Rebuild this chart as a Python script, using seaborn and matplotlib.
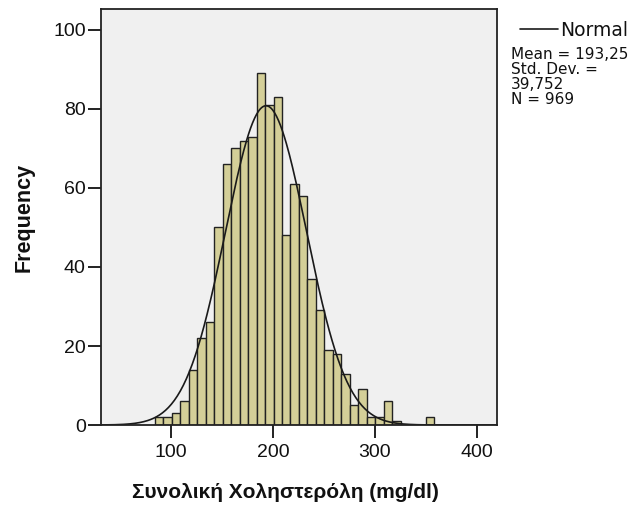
import numpy as np
import pandas as pd
import seaborn as sns
import matplotlib.pyplot as plt
from matplotlib.lines import Line2D

# histogram (SPSS style bins)
bin_start = 84.3
bin_width = 8.31
counts = [2, 2, 3, 6, 14, 22, 26, 50, 66, 70, 72, 73, 89, 81, 83, 48, 61,
          58, 37, 29, 19, 18, 13, 5, 9, 2, 2, 6, 1, 0, 0, 0, 2]
mean_val = 193.25
sd_val = 39.752
n_val = 969
x_ticks = [100, 200, 300, 400]
y_ticks = [0, 20, 40, 60, 80, 100]

edges = bin_start + bin_width * np.arange(len(counts) + 1)
df = pd.DataFrame({'chol': (edges[:-1] + edges[1:]) / 2, 'n': counts})

sns.set_style('white')
plt.rcParams['font.family'] = ['Liberation Sans', 'DejaVu Sans']
plt.rcParams['text.color'] = '#111111'
plt.rcParams['axes.labelcolor'] = '#111111'
plt.rcParams['xtick.color'] = '#111111'
plt.rcParams['ytick.color'] = '#111111'

fig = plt.figure(figsize=(6.34, 5.09), dpi=100)
ax = fig.add_axes([0.1593, 0.165, 0.6241, 0.8173])
ax.set_facecolor('#F0F0F0')

sns.histplot(data=df, x='chol', weights='n', bins=list(edges), ax=ax,
             color='#D4CF98', edgecolor='#222222', linewidth=1.0, alpha=1)

# normal curve scaled to counts
xs = np.linspace(31.3, 419.6, 400)
ys = n_val * bin_width / (sd_val * np.sqrt(2 * np.pi)) * np.exp(-0.5 * ((xs - mean_val) / sd_val) ** 2)
sns.lineplot(x=xs, y=ys, ax=ax, color='#1a1a1a', linewidth=1.2)

ax.set_xlim(31.3, 419.6)
ax.set_ylim(0, 105.3)
ax.set_xticks(x_ticks)
ax.set_yticks(y_ticks)
ax.tick_params(axis='both', direction='out', length=9.5, width=1.4, color='#222222',
               labelsize=14, left=True, bottom=True)
ax.tick_params(axis='x', pad=4)
ax.tick_params(axis='y', pad=1.5)
for s in ax.spines.values():
    s.set_color('#222222')
    s.set_linewidth(1.3)

ax.set_xlabel('Συνολική Χοληστερόλη (mg/dl)', fontsize=15, fontweight='bold',
              labelpad=16, x=0.465)
ax.set_ylabel('Frequency', fontsize=15.5, fontweight='bold', labelpad=13)

# legend block at the right
fig.add_artist(Line2D([520 / 634, 558 / 634], [1 - 29 / 509, 1 - 29 / 509],
                      color='#1a1a1a', linewidth=1.2))
fig.text(560 / 634, 1 - 30 / 509, 'Normal', fontsize=13.5, va='center', ha='left',
         family='DejaVu Sans')
fig.text(511 / 634, 1 - 47 / 509,
         'Mean = 193,25\nStd. Dev. =\n39,752\nN = 969',
         fontsize=11, va='top', ha='left', linespacing=1.0, family='DejaVu Sans')

fig.savefig('out.png', dpi=100)
